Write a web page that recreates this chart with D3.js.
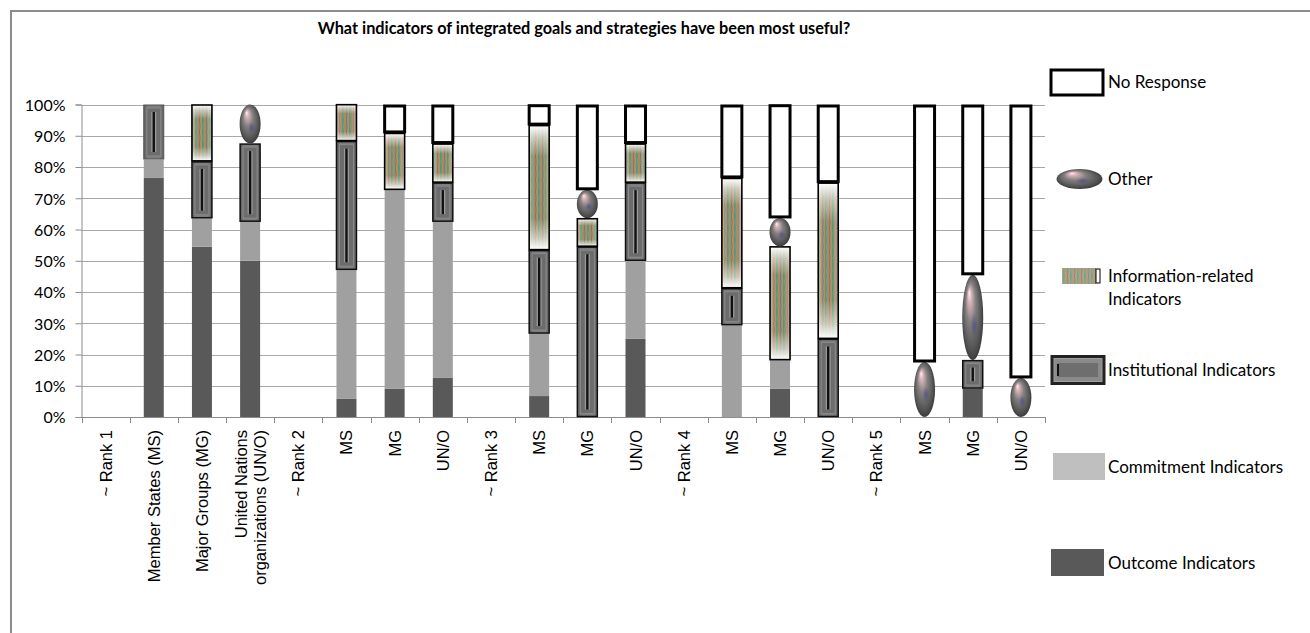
<!DOCTYPE html>
<html>
<head>
<meta charset="utf-8">
<script src="https://cdn.jsdelivr.net/npm/d3@7"></script>
<style>
  html, body { margin: 0; padding: 0; background: #fff; }
  svg { display: block; }
  .ytick text { font-family: Lato, "Open Sans", sans-serif; font-size: 16px; fill: #000; }
  .xlab { font-family: "Liberation Sans", Arial, sans-serif; font-size: 16.5px; fill: #000; }
  .legend text { font-family: Lato, sans-serif; font-size: 17px; fill: #000; }
  .title { font-family: Lato, sans-serif; font-size: 16.3px; font-weight: bold; fill: #000; }
</style>
</head>
<body>
<svg id="chart" width="1310" height="633"></svg>
<script>
// Category labels along the x axis (multi-line labels split with "\n")
const categories = [
  "~ Rank 1", "Member States (MS)", "Major Groups (MG)", "United Nations\norganizations (UN/O)",
  "~ Rank 2", "MS", "MG", "UN/O",
  "~ Rank 3", "MS", "MG", "UN/O",
  "~ Rank 4", "MS", "MG", "UN/O",
  "~ Rank 5", "MS", "MG", "UN/O"
];

// Share of responses (%) per category, stacked bottom to top
const outcome       = [0, 76.5, 54.5, 50,   0, 5.9, 9.1, 12.5,   0, 6.7, 0, 25,      0, 0, 9.1, 0,      0, 0, 9.1, 0];
const commitment    = [0, 5.9, 9.1, 12.5,   0, 41.2, 63.6, 50,   0, 20, 0, 25,       0, 29.4, 9.1, 0,   0, 0, 0, 0];
const institutional = [0, 17.6, 18.2, 25,   0, 41.2, 0, 12.5,    0, 26.7, 54.5, 25,  0, 11.8, 0, 25,    0, 0, 9.1, 0];
const information   = [0, 0, 18.2, 0,       0, 11.8, 18.2, 12.5, 0, 40, 9.1, 12.5,   0, 35.3, 36.4, 50, 0, 0, 0, 0];
const other         = [0, 0, 0, 12.5,       0, 0, 0, 0,          0, 0, 9.1, 0,       0, 0, 9.1, 0,      0, 17.6, 27.3, 12.5];
const noResponse    = [0, 0, 0, 0,          0, 0, 9.1, 12.5,     0, 6.7, 27.3, 12.5, 0, 23.5, 36.4, 25, 0, 82.4, 54.5, 87.5];

const seriesNames = ["Outcome Indicators", "Commitment Indicators", "Institutional Indicators",
                     "Information-related Indicators", "Other", "No Response"];
const yTicks = [0, 10, 20, 30, 40, 50, 60, 70, 80, 90, 100];
const chartTitle = "What indicators of integrated goals and strategies have been most useful?";

const seriesValues = [outcome, commitment, institutional, information, other, noResponse];
const rows = categories.map((c, i) => {
  const r = { idx: i };
  seriesNames.forEach((s, k) => { r[s] = seriesValues[k][i]; });
  return r;
});
const stacked = d3.stack().keys(seriesNames)(rows);

const svg = d3.select("#chart");
const defs = svg.append("defs");

// Outer chart frame
svg.append("rect").attr("x", 11).attr("y", 11).attr("width", 1320).attr("height", 650)
  .attr("fill", "none").attr("stroke", "#8c8c8c").attr("stroke-width", 2);

const plot = { left: 81.5, right: 1045, top: 104.5, bottom: 417 };
const x = d3.scaleBand().domain(d3.range(categories.length))
  .range([plot.left, plot.right]).paddingInner(0.585).paddingOuter(0.2925);
const y = d3.scaleLinear().domain([0, 100]).range([plot.bottom, plot.top]);
const bw = x.bandwidth();

// ---- pattern / gradient definitions ----
// vertical streaked texture for information-related indicators
const pat = defs.append("pattern").attr("id", "streaks").attr("patternUnits", "userSpaceOnUse")
  .attr("width", 7).attr("height", 12);
pat.append("rect").attr("width", 7).attr("height", 12).attr("fill", "#a09a8a");
[["#5f9a6c", 0.5], ["#c0804f", 2], ["#6d7a6d", 3.5], ["#c8865f", 5], ["#4f9a78", 6.3]].forEach(([c, px]) => {
  pat.append("path").attr("d", `M${px},0 Q${px + 1},6 ${px},12`).attr("stroke", c)
    .attr("stroke-width", 1.2).attr("fill", "none");
});
const fade = defs.append("linearGradient").attr("id", "fadeEnds").attr("x1", 0).attr("y1", 0).attr("x2", 0).attr("y2", 1);
[[0, 1], [0.1, 0.5], [0.25, 0], [0.75, 0], [0.9, 0.5], [1, 1]].forEach(([o, a]) => {
  fade.append("stop").attr("offset", o).attr("stop-color", "#fff").attr("stop-opacity", a);
});
const sideFade = defs.append("linearGradient").attr("id", "sideFade").attr("x1", 0).attr("y1", 0).attr("x2", 1).attr("y2", 0);
[[0, 0.35], [0.25, 0], [0.75, 0], [1, 0.35]].forEach(([o, a]) => {
  sideFade.append("stop").attr("offset", o).attr("stop-color", "#fff").attr("stop-opacity", a);
});

// shiny sphere look for "Other"
const sphere = defs.append("radialGradient").attr("id", "sphere")
  .attr("cx", 0.5).attr("cy", 0.5).attr("r", 0.55).attr("fx", 0.33).attr("fy", 0.2);
[[0, "#fff2f5"], [0.15, "#d8b4bc"], [0.42, "#858080"], [0.78, "#555555"], [1, "#333333"]].forEach(([o, c]) => {
  sphere.append("stop").attr("offset", o).attr("stop-color", c);
});
const spot = defs.append("radialGradient").attr("id", "spot");
spot.append("stop").attr("offset", 0).attr("stop-color", "#4a4a8a").attr("stop-opacity", 0.7);
spot.append("stop").attr("offset", 1).attr("stop-color", "#4a4a8a").attr("stop-opacity", 0);

// bevelled grey for institutional indicators
const bevel = defs.append("linearGradient").attr("id", "bevel").attr("x1", 0).attr("y1", 0).attr("x2", 1).attr("y2", 0);
[[0, "#5e5e5e"], [0.2, "#7c7c7c"], [0.8, "#7c7c7c"], [1, "#5e5e5e"]].forEach(([o, c]) => {
  bevel.append("stop").attr("offset", o).attr("stop-color", c);
});

// ---- gridlines & axes ----
const grid = svg.append("g");
grid.selectAll("line").data(yTicks.filter(t => t > 0)).join("line")
  .attr("x1", plot.left).attr("x2", plot.right)
  .attr("y1", d => Math.round(y(d)) + 0.5).attr("y2", d => Math.round(y(d)) + 0.5)
  .attr("stroke", "#a8a8a8").attr("stroke-width", 1);

const yAxis = svg.append("g").attr("class", "ytick")
  .attr("transform", `translate(${plot.left},0)`)
  .call(d3.axisLeft(y).tickValues(yTicks).tickFormat(d => d + "%").tickSize(6).tickPadding(10));
yAxis.select(".domain").attr("stroke", "#8c8c8c");
yAxis.selectAll(".tick line").attr("stroke", "#8c8c8c");
yAxis.selectAll(".tick text").attr("dy", "0.36em");

// x axis: baseline and tick marks at category boundaries
const xAxis = svg.append("g");
xAxis.append("line").attr("x1", plot.left).attr("x2", plot.right)
  .attr("y1", plot.bottom + 0.5).attr("y2", plot.bottom + 0.5).attr("stroke", "#8c8c8c");
const step = x.step();
xAxis.selectAll("line.tk").data(d3.range(categories.length + 1)).join("line").attr("class", "tk")
  .attr("x1", i => Math.round(plot.left + i * step) + 0.5).attr("x2", i => Math.round(plot.left + i * step) + 0.5)
  .attr("y1", plot.bottom).attr("y2", plot.bottom + 6).attr("stroke", "#8c8c8c");

// rotated category labels
categories.forEach((c, i) => {
  const lines = c.split("\n");
  const cx = x(i) + bw / 2;
  const t = svg.append("text").attr("class", "xlab")
    .attr("transform", `translate(${cx},${plot.bottom + 13}) rotate(-90)`)
    .attr("text-anchor", "end");
  lines.forEach((ln, k) => {
    t.append("tspan").attr("x", 0)
      .attr("y", (k - (lines.length - 1) / 2) * 19 + 6)
      .text(ln);
  });
});

// ---- bars ----
function drawInstitutional(g, x0, y0, w, h, outline) {
  g.append("rect").attr("x", x0).attr("y", y0).attr("width", w).attr("height", h)
    .attr("fill", "url(#bevel)").attr("stroke", outline ? "#111" : "#555").attr("stroke-width", outline ? 1.5 : 1);
  if (h > 8) {
    g.append("rect").attr("x", x0 + 3).attr("y", y0 + 3).attr("width", w - 6).attr("height", h - 6)
      .attr("fill", "#6c6c6c").attr("stroke", "#8a8a8a").attr("stroke-width", 1);
    const ly1 = y0 + Math.min(7, h * 0.25), ly2 = y0 + h - Math.min(7, h * 0.25);
    g.append("line").attr("x1", x0 + w / 2).attr("x2", x0 + w / 2).attr("y1", ly1).attr("y2", ly2)
      .attr("stroke", "#9a9a9a").attr("stroke-width", 5);
    g.append("line").attr("x1", x0 + w / 2).attr("x2", x0 + w / 2).attr("y1", ly1).attr("y2", ly2)
      .attr("stroke", "#111").attr("stroke-width", 2.4);
  }
}
function drawInformation(g, x0, y0, w, h) {
  g.append("rect").attr("x", x0).attr("y", y0).attr("width", w).attr("height", h).attr("fill", "url(#streaks)");
  g.append("rect").attr("x", x0).attr("y", y0).attr("width", w).attr("height", h).attr("fill", "url(#sideFade)");
  g.append("rect").attr("x", x0).attr("y", y0).attr("width", w).attr("height", h).attr("fill", "url(#fadeEnds)")
    .attr("stroke", "#000").attr("stroke-width", 1.6);
}
function drawOther(g, cx, cy, rx, ry) {
  g.append("ellipse").attr("cx", cx).attr("cy", cy).attr("rx", rx).attr("ry", ry).attr("fill", "url(#sphere)");
  g.append("ellipse").attr("cx", cx + rx * 0.15).attr("cy", cy + ry * 0.2).attr("rx", rx * 0.35).attr("ry", ry * 0.3)
    .attr("fill", "url(#spot)");
}

const bars = svg.append("g");
stacked.forEach(layer => {
  const key = layer.key;
  layer.forEach((d, i) => {
    const v = d[1] - d[0];
    if (v <= 0) return;
    const x0 = x(i), y0 = y(d[1]), h = y(d[0]) - y(d[1]);
    const g = bars.append("g");
    if (key === "Outcome Indicators") {
      g.append("rect").attr("x", x0).attr("y", y0).attr("width", bw).attr("height", h).attr("fill", "#595959");
    } else if (key === "Commitment Indicators") {
      g.append("rect").attr("x", x0).attr("y", y0).attr("width", bw).attr("height", h).attr("fill", "#a0a0a0");
    } else if (key === "Institutional Indicators") {
      drawInstitutional(g, x0, y0 + 0.5, bw, h - 1, i !== 1);
    } else if (key === "Information-related Indicators") {
      drawInformation(g, x0, y0 + 0.5, bw, h - 1);
    } else if (key === "Other") {
      drawOther(g, x0 + bw / 2, y0 + h / 2, bw / 2 + 0.5, h / 2);
    } else {
      g.append("rect").attr("x", x0).attr("y", y0 + 1.5).attr("width", bw).attr("height", h - 2.5)
        .attr("fill", "#fff").attr("stroke", "#000").attr("stroke-width", 3);
    }
  });
});

// ---- legend ----
const legend = svg.append("g").attr("class", "legend");
const legendItems = [
  { name: "No Response", y: 82 },
  { name: "Other", y: 179 },
  { name: "Information-related Indicators", y: 276, lines: ["Information-related", "Indicators"] },
  { name: "Institutional Indicators", y: 370 },
  { name: "Commitment Indicators", y: 467 },
  { name: "Outcome Indicators", y: 563 }
];
legendItems.forEach(it => {
  const g = legend.append("g");
  const cy = it.y;
  if (it.name === "No Response") {
    g.append("rect").attr("x", 1051).attr("y", cy - 12).attr("width", 52).attr("height", 25)
      .attr("fill", "#fff").attr("stroke", "#000").attr("stroke-width", 3);
  } else if (it.name === "Other") {
    drawOther(g, 1079.5, cy, 23, 10);
  } else if (it.name === "Information-related Indicators") {
    g.append("rect").attr("x", 1062).attr("y", cy - 8).attr("width", 34).attr("height", 16)
      .attr("fill", "url(#streaks)").attr("opacity", 0.85);
    g.append("rect").attr("x", 1096).attr("y", cy - 7).attr("width", 4).attr("height", 14)
      .attr("fill", "none").attr("stroke", "#000").attr("stroke-width", 1);
  } else if (it.name === "Institutional Indicators") {
    g.append("rect").attr("x", 1050.5).attr("y", cy - 15).attr("width", 55).attr("height", 30)
      .attr("fill", "#222");
    g.append("rect").attr("x", 1054).attr("y", cy - 11.5).attr("width", 48).attr("height", 23)
      .attr("fill", "#8a8a8a").attr("stroke", "#a0a0a0").attr("stroke-width", 1);
    g.append("rect").attr("x", 1058).attr("y", cy - 7).attr("width", 40).attr("height", 14)
      .attr("fill", "#6e6e6e");
    g.append("line").attr("x1", 1058).attr("x2", 1058).attr("y1", cy - 6).attr("y2", cy + 6)
      .attr("stroke", "#111").attr("stroke-width", 2);
  } else if (it.name === "Commitment Indicators") {
    g.append("rect").attr("x", 1053).attr("y", cy - 14).attr("width", 52).attr("height", 27).attr("fill", "#bfbfbf");
  } else {
    g.append("rect").attr("x", 1051).attr("y", cy - 14).attr("width", 53).attr("height", 27).attr("fill", "#595959");
  }
  const lines = it.lines || [it.name];
  const t = g.append("text").attr("x", 1108);
  lines.forEach((ln, k) => {
    t.append("tspan").attr("x", 1108).attr("y", cy + 6 + k * 23).text(ln);
  });
});

// ---- title ----
svg.append("text").attr("class", "title").attr("x", 584).attr("y", 34)
  .attr("text-anchor", "middle").text(chartTitle);
</script>
</body>
</html>
